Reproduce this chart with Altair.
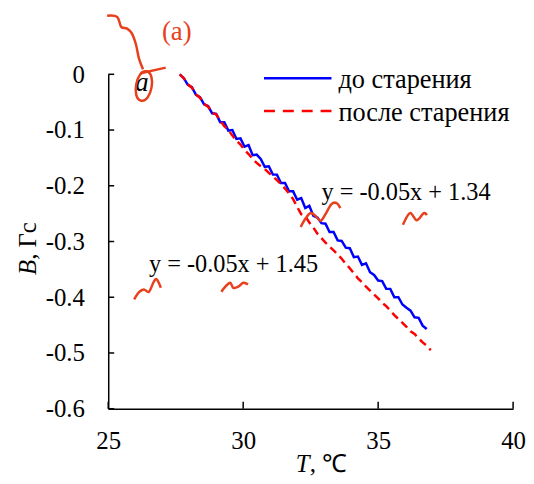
import altair as alt
import pandas as pd

# ---------------- data ----------------
T_before = [27.65, 27.80, 27.95, 28.10, 28.25, 28.40, 28.55, 28.70, 28.85, 29.00,
            29.15, 29.30, 29.45, 29.60, 29.75, 29.90, 30.05, 30.20, 30.35, 30.50,
            30.65, 30.80, 30.95, 31.10, 31.25, 31.40, 31.55, 31.70, 31.85, 32.00,
            32.15, 32.30, 32.45, 32.60, 32.75, 32.90, 33.05, 33.20, 33.35, 33.50,
            33.65, 33.80, 33.95, 34.10, 34.25, 34.40, 34.55, 34.70, 34.85, 35.00,
            35.15, 35.30, 35.45, 35.60, 35.75, 35.90, 36.05, 36.20, 36.35, 36.50,
            36.65, 36.80]
B_before = [0.000, -0.007, -0.019, -0.023, -0.037, -0.041, -0.054, -0.057, -0.070, -0.071,
            -0.086, -0.086, -0.101, -0.100, -0.116, -0.115, -0.130, -0.127, -0.145, -0.144,
            -0.152, -0.166, -0.165, -0.180, -0.180, -0.195, -0.195, -0.210, -0.210, -0.225,
            -0.222, -0.240, -0.236, -0.254, -0.257, -0.267, -0.268, -0.283, -0.283, -0.298,
            -0.299, -0.311, -0.312, -0.328, -0.327, -0.342, -0.339, -0.355, -0.360, -0.370,
            -0.371, -0.385, -0.385, -0.400, -0.400, -0.413, -0.419, -0.424, -0.436, -0.437,
            -0.451, -0.457]

T_after = [27.65, 27.80, 27.95, 28.10, 28.25, 28.40, 28.55, 28.70, 28.85, 29.00,
           29.15, 29.30, 29.45, 29.60, 29.75, 29.90, 30.05, 30.20, 30.35, 30.50,
           30.65, 30.80, 30.95, 31.10, 31.25, 31.40, 31.55, 31.70, 31.85, 32.00,
           32.15, 32.30, 32.45, 32.60, 32.75, 32.90, 33.05, 33.20, 33.35, 33.50,
           33.65, 33.80, 33.95, 34.10, 34.25, 34.40, 34.55, 34.70, 34.85, 35.00,
           35.15, 35.30, 35.45, 35.60, 35.75, 35.90, 36.05, 36.20, 36.35, 36.50,
           36.65, 36.80, 36.95]
B_after = [0.000, -0.007, -0.018, -0.024, -0.036, -0.042, -0.053, -0.058, -0.069, -0.072,
           -0.083, -0.093, -0.100, -0.110, -0.119, -0.126, -0.136, -0.143, -0.152, -0.159,
           -0.165, -0.170, -0.177, -0.183, -0.190, -0.197, -0.205, -0.214, -0.224, -0.238,
           -0.251, -0.254, -0.266, -0.275, -0.286, -0.294, -0.302, -0.309, -0.316, -0.323,
           -0.331, -0.340, -0.348, -0.357, -0.366, -0.373, -0.381, -0.388, -0.395, -0.402,
           -0.410, -0.416, -0.424, -0.432, -0.439, -0.446, -0.453, -0.461, -0.466, -0.474,
           -0.481, -0.487, -0.495]

x_ticks = [25, 30, 35, 40]
y_ticks = [0, -0.1, -0.2, -0.3, -0.4, -0.5, -0.6]

legend_labels = ["до старения", "после старения"]

fit_labels = ["y = -0.05x + 1.34", "y = -0.05x + 1.45"]
fit_T = [32.90, 26.51]
fit_B = [-0.226, -0.354]

panel_label = ["(a)"]
panel_T = [26.99]
panel_B = [0.062]

mark_a_label = ["a"]
mark_a_T = [26.25]
mark_a_B = [-0.030]

ellipse_T = [26.32]
ellipse_B = [-0.021]

# hand-drawn red strokes on the original figure
scribble_id = [1, 1, 1, 1, 1, 1, 1, 1, 1,
               2, 2, 2, 2, 2,
               3, 3, 3, 3, 3, 3, 3,
               4, 4, 4, 4, 4, 4, 4,
               5, 5, 5, 5, 5, 5, 5, 5,
               6, 6]
scribble_T = [32.13, 32.32, 32.50, 32.68, 32.87, 33.05, 33.27, 33.46, 33.60,
              35.92, 36.18, 36.43, 36.69, 36.80,
              25.96, 26.14, 26.32, 26.51, 26.69, 26.80, 26.95,
              29.19, 29.34, 29.52, 29.63, 29.82, 30.00, 30.18,
              24.96, 25.33, 25.48, 25.70, 25.88, 26.03, 26.14, 26.29,
              26.20, 27.13]
scribble_B = [-0.274, -0.258, -0.249, -0.254, -0.263, -0.251, -0.233, -0.231, -0.240,
              -0.270, -0.249, -0.262, -0.249, -0.253,
              -0.404, -0.391, -0.386, -0.390, -0.372, -0.368, -0.383,
              -0.390, -0.381, -0.374, -0.383, -0.381, -0.374, -0.377,
              0.105, 0.103, 0.085, 0.082, 0.073, 0.053, 0.028, 0.009,
              0.002, 0.012]

# ---------------- styling ----------------
FONT = "Liberation Serif"
W, H = 408, 337
ACCENT = "#E8401C"
BLUE = "#0000FF"
RED = "#FF0000"

xscale = alt.Scale(domain=[25, 40], nice=False, zero=False)
yscale = alt.Scale(domain=[-0.6, 0], nice=False, zero=False)

xaxis = alt.Axis(values=x_ticks, ticks=False, tickSize=0, grid=False,
                 domainColor="black", domainWidth=1.5,
                 labelFont=FONT, labelFontSize=25, labelColor="black",
                 labelPadding=20, labelFlush=False, labelOverlap=False)
yaxis = alt.Axis(values=y_ticks, ticks=False, tickSize=0, grid=False,
                 domainColor="black", domainWidth=1.5,
                 labelFont=FONT, labelFontSize=25, labelColor="black",
                 labelPadding=24, labelFlush=False, labelOverlap=False,
                 labelExpr="datum.value == 0 ? '0' : '-' + format(-datum.value, '.1f')")


def X():
    return alt.X("T:Q", scale=xscale, axis=xaxis, title="")


def Y():
    return alt.Y("B:Q", scale=yscale, axis=yaxis, title="")


one = pd.DataFrame({"k": [0]})

df_b = pd.DataFrame({"T": T_before, "B": B_before})
df_a = pd.DataFrame({"T": T_after, "B": B_after})

line_b = alt.Chart(df_b).mark_line(color=BLUE, strokeWidth=2.5).encode(x=X(), y=Y())
line_a = alt.Chart(df_a).mark_line(color=RED, strokeWidth=2.5, strokeDash=[8, 5]).encode(x=X(), y=Y())

ticks_x = alt.Chart(pd.DataFrame({"T": x_ticks})).mark_rule(color="black", strokeWidth=1.5).encode(
    x=X(), y=alt.value(H - 7), y2=alt.value(H))
ticks_y = alt.Chart(pd.DataFrame({"B": y_ticks})).mark_rule(color="black", strokeWidth=1.5).encode(
    y=Y(), x=alt.value(0), x2=alt.value(6))

# legend
leg1_line = alt.Chart(one).mark_rule(color=BLUE, strokeWidth=2.5).encode(
    x=alt.value(157), x2=alt.value(225), y=alt.value(4))
leg2_line = alt.Chart(one).mark_rule(color=RED, strokeWidth=2.5, strokeDash=[11, 8]).encode(
    x=alt.value(157), x2=alt.value(225), y=alt.value(37))
leg1_text = alt.Chart(pd.DataFrame({"label": [legend_labels[0]]})).mark_text(
    align="left", baseline="alphabetic", font=FONT, fontSize=26.5, color="black").encode(
    x=alt.value(232), y=alt.value(14), text="label:N")
leg2_text = alt.Chart(pd.DataFrame({"label": [legend_labels[1]]})).mark_text(
    align="left", baseline="alphabetic", font=FONT, fontSize=26.5, color="black").encode(
    x=alt.value(232), y=alt.value(47), text="label:N")

# annotations
fits = alt.Chart(pd.DataFrame({"T": fit_T, "B": fit_B, "label": fit_labels})).mark_text(
    align="left", baseline="alphabetic", font=FONT, fontSize=24.5, color="black").encode(
    x=X(), y=Y(), text="label:N")
panel = alt.Chart(pd.DataFrame({"T": panel_T, "B": panel_B, "label": panel_label})).mark_text(
    align="left", baseline="alphabetic", font=FONT, fontSize=27, color=ACCENT).encode(
    x=X(), y=Y(), text="label:N")
mark_a = alt.Chart(pd.DataFrame({"T": mark_a_T, "B": mark_a_B, "label": mark_a_label})).mark_text(
    align="center", baseline="alphabetic", font=FONT, fontSize=27, fontStyle="italic", color="black").encode(
    x=X(), y=Y(), text="label:N")
ellipse = alt.Chart(pd.DataFrame({"T": ellipse_T, "B": ellipse_B})).mark_point(
    shape="M0,-1 C0.7,-1 0.7,1 0,1 C-0.7,1 -0.7,-1 0,-1 Z", size=900, filled=False,
    stroke=ACCENT, strokeWidth=2.5, angle=10, opacity=1).encode(x=X(), y=Y())
scribbles = alt.Chart(pd.DataFrame({"T": scribble_T, "B": scribble_B, "s": scribble_id})).mark_line(
    color=ACCENT, strokeWidth=2.5, interpolate="cardinal").encode(x=X(), y=Y(), detail="s:N")

# axis titles (mixed italic / upright)
xt1 = alt.Chart(one).mark_text(text="T", font=FONT, fontSize=25, fontStyle="italic",
                               align="right", baseline="alphabetic", color="black").encode(
    x=alt.value(203), y=alt.value(401))
xt2 = alt.Chart(one).mark_text(text=", ℃", font=FONT, fontSize=25,
                               align="left", baseline="alphabetic", color="black").encode(
    x=alt.value(203), y=alt.value(401))
yt1 = alt.Chart(one).mark_text(text="B", font=FONT, fontSize=25, fontStyle="italic", angle=270,
                               align="right", baseline="middle", color="black").encode(
    x=alt.value(-81), y=alt.value(187))
yt2 = alt.Chart(one).mark_text(text=", Гс", font=FONT, fontSize=25, angle=270,
                               align="left", baseline="middle", color="black").encode(
    x=alt.value(-81), y=alt.value(187))

chart = alt.layer(
    line_b, line_a, ticks_x, ticks_y,
    leg1_line, leg2_line, leg1_text, leg2_text,
    fits, scribbles, panel, mark_a, ellipse,
    xt1, xt2, yt1, yt2,
).properties(
    width=W, height=H,
    autosize=alt.AutoSizeParams(type="none"),
    padding={"left": 101, "top": 65, "right": 13, "bottom": 66},
    background="white",
).configure_view(stroke="transparent")

chart.save("out.html", embed_options={"renderer": "svg", "actions": False})
